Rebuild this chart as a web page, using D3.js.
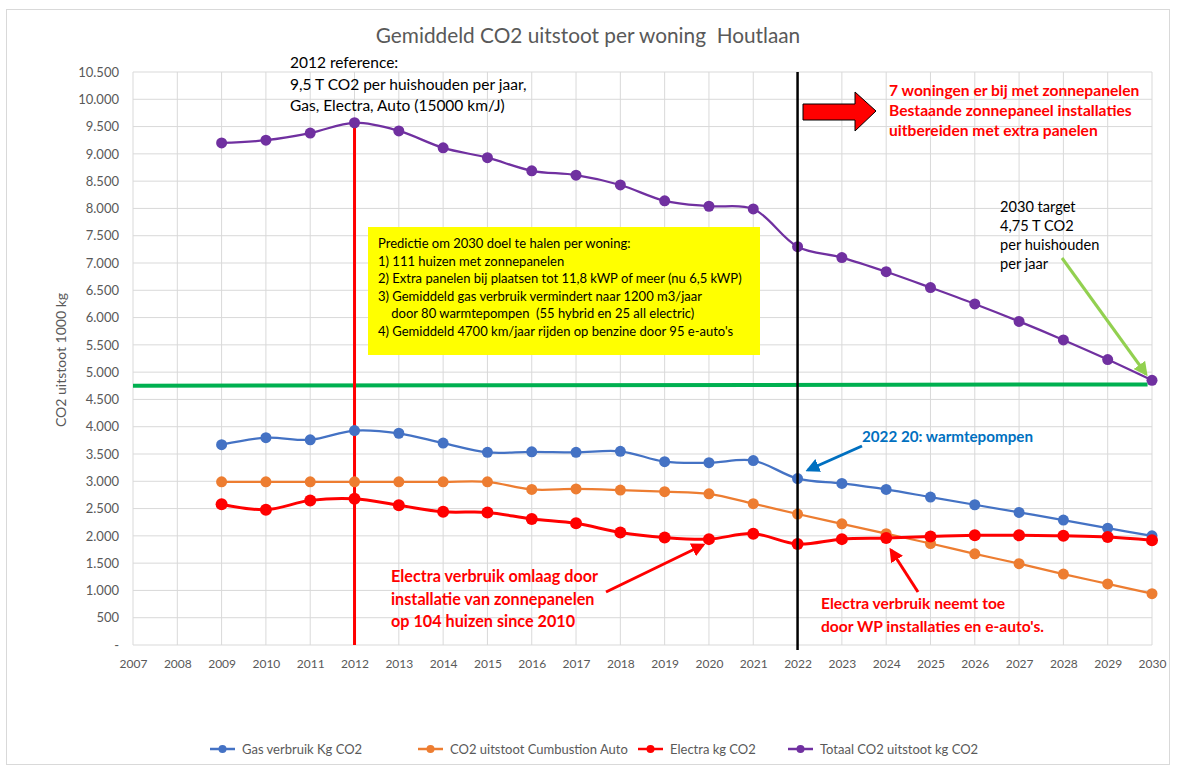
<!DOCTYPE html>
<html>
<head>
<meta charset="utf-8">
<script src="https://cdn.jsdelivr.net/npm/d3@7"></script>
<style>
  body { margin: 0; background: #fff; }
  text { font-family: Lato, "Open Sans", sans-serif; }
</style>
</head>
<body>
<div id="chart"></div>
<script>
// jaren en waarden (kg CO2 per woning)
var years = [2009, 2010, 2011, 2012, 2013, 2014, 2015, 2016, 2017, 2018, 2019, 2020, 2021, 2022, 2023, 2024, 2025, 2026, 2027, 2028, 2029, 2030];
var gasData = [3670, 3800, 3760, 3930, 3880, 3700, 3530, 3540, 3530, 3550, 3360, 3340, 3380, 3050, 2960, 2850, 2710, 2570, 2430, 2290, 2140, 2000];
var autoData = [2990, 2990, 2990, 2990, 2990, 2990, 2990, 2850, 2860, 2840, 2810, 2770, 2590, 2400, 2220, 2040, 1860, 1670, 1490, 1300, 1120, 940];
var electraData = [2580, 2480, 2650, 2680, 2560, 2440, 2430, 2310, 2230, 2060, 1970, 1940, 2040, 1850, 1940, 1960, 1990, 2010, 2010, 2000, 1980, 1920];
var totaalData = [9200, 9250, 9380, 9570, 9420, 9110, 8930, 8690, 8610, 8430, 8140, 8040, 7990, 7300, 7100, 6840, 6550, 6250, 5930, 5590, 5230, 4850];
var seriesNames = ["Gas verbruik Kg CO2", "CO2 uitstoot Cumbustion Auto", "Electra kg CO2", "Totaal CO2 uitstoot kg CO2"];
var seriesColors = ["#4472C4", "#ED7D31", "#FF0000", "#7030A0"];
var xTicks = d3.range(2007, 2031);
var yTicks = d3.range(0, 10501, 500);
var targetValue = 4750;

var width = 1177;
var height = 769;

var svg = d3.select("#chart").append("svg")
  .attr("width", width)
  .attr("height", height);

svg.append("rect")
  .attr("x", 6.5).attr("y", 9.5)
  .attr("width", 1163).attr("height", 755)
  .attr("fill", "#fff")
  .attr("stroke", "#d9d9d9");

var x = d3.scaleLinear().domain([2007, 2030]).range([133, 1152]);
var y = d3.scaleLinear().domain([0, 10500]).range([645, 72]);

var nl = d3.formatLocale({ decimal: ",", thousands: ".", grouping: [3], currency: ["€", ""] });
var fmt = nl.format(",");

var defs = svg.append("defs");
function marker(id, color, size) {
  defs.append("marker")
    .attr("id", id)
    .attr("viewBox", "0 0 10 10")
    .attr("refX", 8).attr("refY", 5)
    .attr("markerWidth", size).attr("markerHeight", size)
    .attr("markerUnits", "userSpaceOnUse")
    .attr("orient", "auto")
    .append("path")
    .attr("d", "M0,0 L10,5 L0,10 z")
    .attr("fill", color);
}
marker("arrRed", "#FF0000", 14);
marker("arrBlue", "#0070C0", 14);
marker("arrGreen", "#92D050", 14);

// grid
svg.append("g").selectAll("line")
  .data(yTicks)
  .enter().append("line")
  .attr("x1", x(2007)).attr("x2", x(2030))
  .attr("y1", d => y(d)).attr("y2", d => y(d))
  .attr("stroke", "#d9d9d9").attr("stroke-width", 1);

svg.append("g").selectAll("line")
  .data(xTicks)
  .enter().append("line")
  .attr("x1", d => x(d)).attr("x2", d => x(d))
  .attr("y1", y(10500)).attr("y2", y(0))
  .attr("stroke", "#d9d9d9").attr("stroke-width", 1);

// axes
var yAxis = svg.append("g")
  .attr("transform", "translate(" + x(2007) + ",0)")
  .call(d3.axisLeft(y).tickValues(yTicks).tickSize(0).tickPadding(14)
    .tickFormat(d => d === 0 ? "-" : fmt(d)));
yAxis.select(".domain").remove();
yAxis.selectAll("text").attr("fill", "#595959").style("font-size", "13px");

var xAxis = svg.append("g")
  .attr("transform", "translate(0," + y(0) + ")")
  .call(d3.axisBottom(x).tickValues(xTicks).tickSize(0).tickPadding(14).tickFormat(d3.format("d")));
xAxis.select(".domain").remove();
xAxis.selectAll("text").attr("fill", "#595959").style("font-size", "12px");

svg.append("text")
  .attr("transform", "translate(66,360) rotate(-90)")
  .attr("text-anchor", "middle")
  .attr("fill", "#595959")
  .style("font-size", "14px")
  .text("CO2 uitstoot 1000 kg");

// title
svg.append("text")
  .attr("x", 588).attr("y", 43)
  .attr("text-anchor", "middle")
  .attr("fill", "#595959")
  .style("font-size", "20.8px")
  .style("white-space", "pre")
  .text("Gemiddeld CO2 uitstoot per woning  Houtlaan");

// target line
svg.append("line")
  .attr("x1", x(2007)).attr("x2", x(2029.9))
  .attr("y1", y(targetValue)).attr("y2", y(targetValue + 25))
  .attr("stroke", "#00B050").attr("stroke-width", 4);

// vertical markers
svg.append("line")
  .attr("x1", x(2012)).attr("x2", x(2012))
  .attr("y1", y(totaalData[3])).attr("y2", y(0))
  .attr("stroke", "#FF0000").attr("stroke-width", 3);

// series
var seriesData = [gasData, autoData, electraData, totaalData];
var line = d3.line()
  .x((d, i) => x(years[i]))
  .y(d => y(d))
  .curve(d3.curveCatmullRom.alpha(0.5));

seriesData.forEach(function (data, k) {
  var g = svg.append("g");
  g.append("path")
    .datum(data)
    .attr("d", line)
    .attr("fill", "none")
    .attr("stroke", seriesColors[k])
    .attr("stroke-width", k === 2 ? 3 : 2.25);
  g.selectAll("circle")
    .data(data)
    .enter().append("circle")
    .attr("cx", (d, i) => x(years[i]))
    .attr("cy", d => y(d))
    .attr("r", k === 2 ? 6 : 5.5)
    .attr("fill", seriesColors[k]);
});

svg.append("line")
  .attr("x1", x(2022)).attr("x2", x(2022))
  .attr("y1", y(10500)).attr("y2", y(0) + 5)
  .attr("stroke", "#000").attr("stroke-width", 2.5);

// yellow box
svg.append("rect")
  .attr("x", 368).attr("y", 227)
  .attr("width", 392).attr("height", 128)
  .attr("fill", "#FFFF00");
var boxLines = [
  "Predictie om 2030 doel te halen per woning:",
  "1) 111 huizen met zonnepanelen",
  "2) Extra panelen bij plaatsen tot 11,8 kWP of meer (nu 6,5 kWP)",
  "3) Gemiddeld gas verbruik vermindert naar 1200 m3/jaar",
  "    door 80 warmtepompen  (55 hybrid en 25 all electric)",
  "4) Gemiddeld 4700 km/jaar rijden op benzine door 95 e-auto's"
];
svg.append("g").selectAll("text")
  .data(boxLines)
  .enter().append("text")
  .attr("x", 378)
  .attr("y", (d, i) => 248 + i * 17.6)
  .attr("fill", "#000")
  .style("font-size", "13px")
  .style("white-space", "pre")
  .text(d => d);

// annotations
function textBlock(lines, x0, y0, lh, size, color, bold) {
  svg.append("g").selectAll("text")
    .data(lines)
    .enter().append("text")
    .attr("x", x0)
    .attr("y", (d, i) => y0 + i * lh)
    .attr("fill", color)
    .style("font-size", size + "px")
    .style("font-weight", bold ? "bold" : "normal")
    .text(d => d);
}

textBlock(["2012 reference:", "9,5 T CO2 per huishouden per jaar,", "Gas, Electra, Auto (15000 km/J)"], 290, 68, 21.5, 15.5, "#000", false);
textBlock(["7 woningen er bij met zonnepanelen", "Bestaande zonnepaneel installaties", "uitbereiden met extra panelen"], 889, 96, 20, 15.6, "#FF0000", true);
textBlock(["2030 target", "4,75 T CO2", "per huishouden", "per jaar"], 1000, 212, 19, 14.6, "#000", false);
textBlock(["2022 20: warmtepompen"], 862, 442, 20, 15.2, "#0070C0", true);
textBlock(["Electra verbruik omlaag door", "installatie van zonnepanelen", "op 104 huizen since 2010"], 391, 582, 22.5, 16.2, "#FF0000", true);
textBlock(["Electra verbruik neemt toe", "door WP installaties en e-auto's."], 821, 609, 23, 15.6, "#FF0000", true);

// block arrow
svg.append("path")
  .attr("d", "M803,104 L855,104 L855,92 L876,111 L855,131 L855,120 L803,120 Z")
  .attr("fill", "#FF0000")
  .attr("stroke", "#000")
  .attr("stroke-width", 1);

// pointer arrows
function arrow(x1, y1, x2, y2, color, id, w) {
  svg.append("line")
    .attr("x1", x1).attr("y1", y1)
    .attr("x2", x2).attr("y2", y2)
    .attr("stroke", color)
    .attr("stroke-width", w)
    .attr("marker-end", "url(#" + id + ")");
}
arrow(606, 592, 703, 545, "#FF0000", "arrRed", 3);
arrow(918, 592, 891, 550, "#FF0000", "arrRed", 3);
arrow(862, 446, 808, 470, "#0070C0", "arrBlue", 3);
arrow(1062, 258, 1146, 374, "#92D050", "arrGreen", 3);

// legend
var legendX = [210, 418, 638, 788];
var legend = svg.append("g").selectAll("g")
  .data(seriesNames)
  .enter().append("g")
  .attr("transform", (d, i) => "translate(" + legendX[i] + ",749)");
legend.append("line")
  .attr("x1", 0).attr("x2", 25)
  .attr("stroke", (d, i) => seriesColors[i])
  .attr("stroke-width", 2.5);
legend.append("circle")
  .attr("cx", 12.5).attr("r", 4)
  .attr("fill", (d, i) => seriesColors[i]);
legend.append("text")
  .attr("x", 32).attr("y", 4.5)
  .attr("fill", "#595959")
  .style("font-size", "13px")
  .text(d => d);
</script>
</body>
</html>
